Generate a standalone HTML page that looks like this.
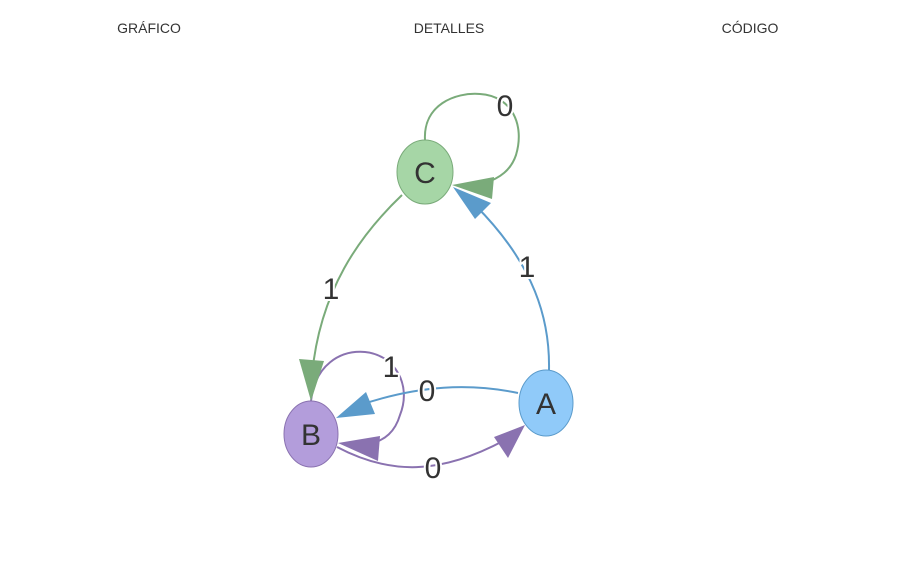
<!DOCTYPE html>
<html><head><meta charset="utf-8"><style>
html,body{margin:0;padding:0;background:#fff;width:904px;height:569px;overflow:hidden;font-family:"Liberation Sans",sans-serif}
</style></head><body>
<svg width="904" height="569" viewBox="0 0 904 569" xmlns="http://www.w3.org/2000/svg" font-family="Liberation Sans, sans-serif">
<g font-size="14" fill="#333" text-anchor="middle">
<text x="149" y="33">GRÁFICO</text>
<text x="449" y="33">DETALLES</text>
<text x="750" y="33">CÓDIGO</text>
</g>
<g fill="none" stroke-width="2">
<!-- C loop -->
<path d="M425 140 C423 105 455 92 480 94 C512 96 525 125 516 155 C511 170 500 178 485 183" stroke="#7aab7a"/>
<!-- A -> C -->
<path d="M549 370 C550 320 535 265 475 205" stroke="#5b9bcb"/>
<!-- C -> B -->
<path d="M402 195 C360 235 320 290 312 375" stroke="#7aab7a"/>
<!-- B loop -->
<path d="M311 401 C315 365 340 350 365 352 C395 355 412 385 400 415 C395 432 385 440 370 444" stroke="#8a72b0"/>
<!-- A -> B -->
<path d="M518 393 C470 383 420 385 360 405" stroke="#5b9bcb"/>
<!-- B -> A -->
<path d="M337 447 C390 475 440 475 505 440" stroke="#8a72b0"/>
</g>
<!-- arrowheads -->
<polygon points="452,185 494,177 492,199" fill="#7aab7a"/>
<polygon points="453,187 491,203 475,219" fill="#5b9bcb"/>
<polygon points="311,401 299,359 324,361" fill="#7aab7a"/>
<polygon points="338,443 380,436 378,461" fill="#8a72b0"/>
<polygon points="336,418 366,392 375,414" fill="#5b9bcb"/>
<polygon points="525,425 494,437 508,458" fill="#8a72b0"/>
<!-- nodes -->
<ellipse cx="425" cy="172" rx="28" ry="32" fill="#a6d6a6" stroke="#7aab7a"/>
<ellipse cx="311" cy="434" rx="27" ry="33" fill="#b39ddb" stroke="#8a72b0"/>
<ellipse cx="546" cy="403" rx="27" ry="33" fill="#90caf9" stroke="#5b9bcb"/>
<g font-size="30" fill="#333" text-anchor="middle">
<text x="425" y="183">C</text>
<text x="311" y="445">B</text>
<text x="546" y="414">A</text>
</g>
<g font-size="30" fill="#333" text-anchor="middle" stroke="#fff" stroke-width="4" paint-order="stroke">
<text x="505" y="116">0</text>
<text x="527" y="277">1</text>
<text x="331" y="299">1</text>
<text x="391" y="377">1</text>
<text x="427" y="401">0</text>
<text x="433" y="478">0</text>
</g>
</svg>
</body></html>
